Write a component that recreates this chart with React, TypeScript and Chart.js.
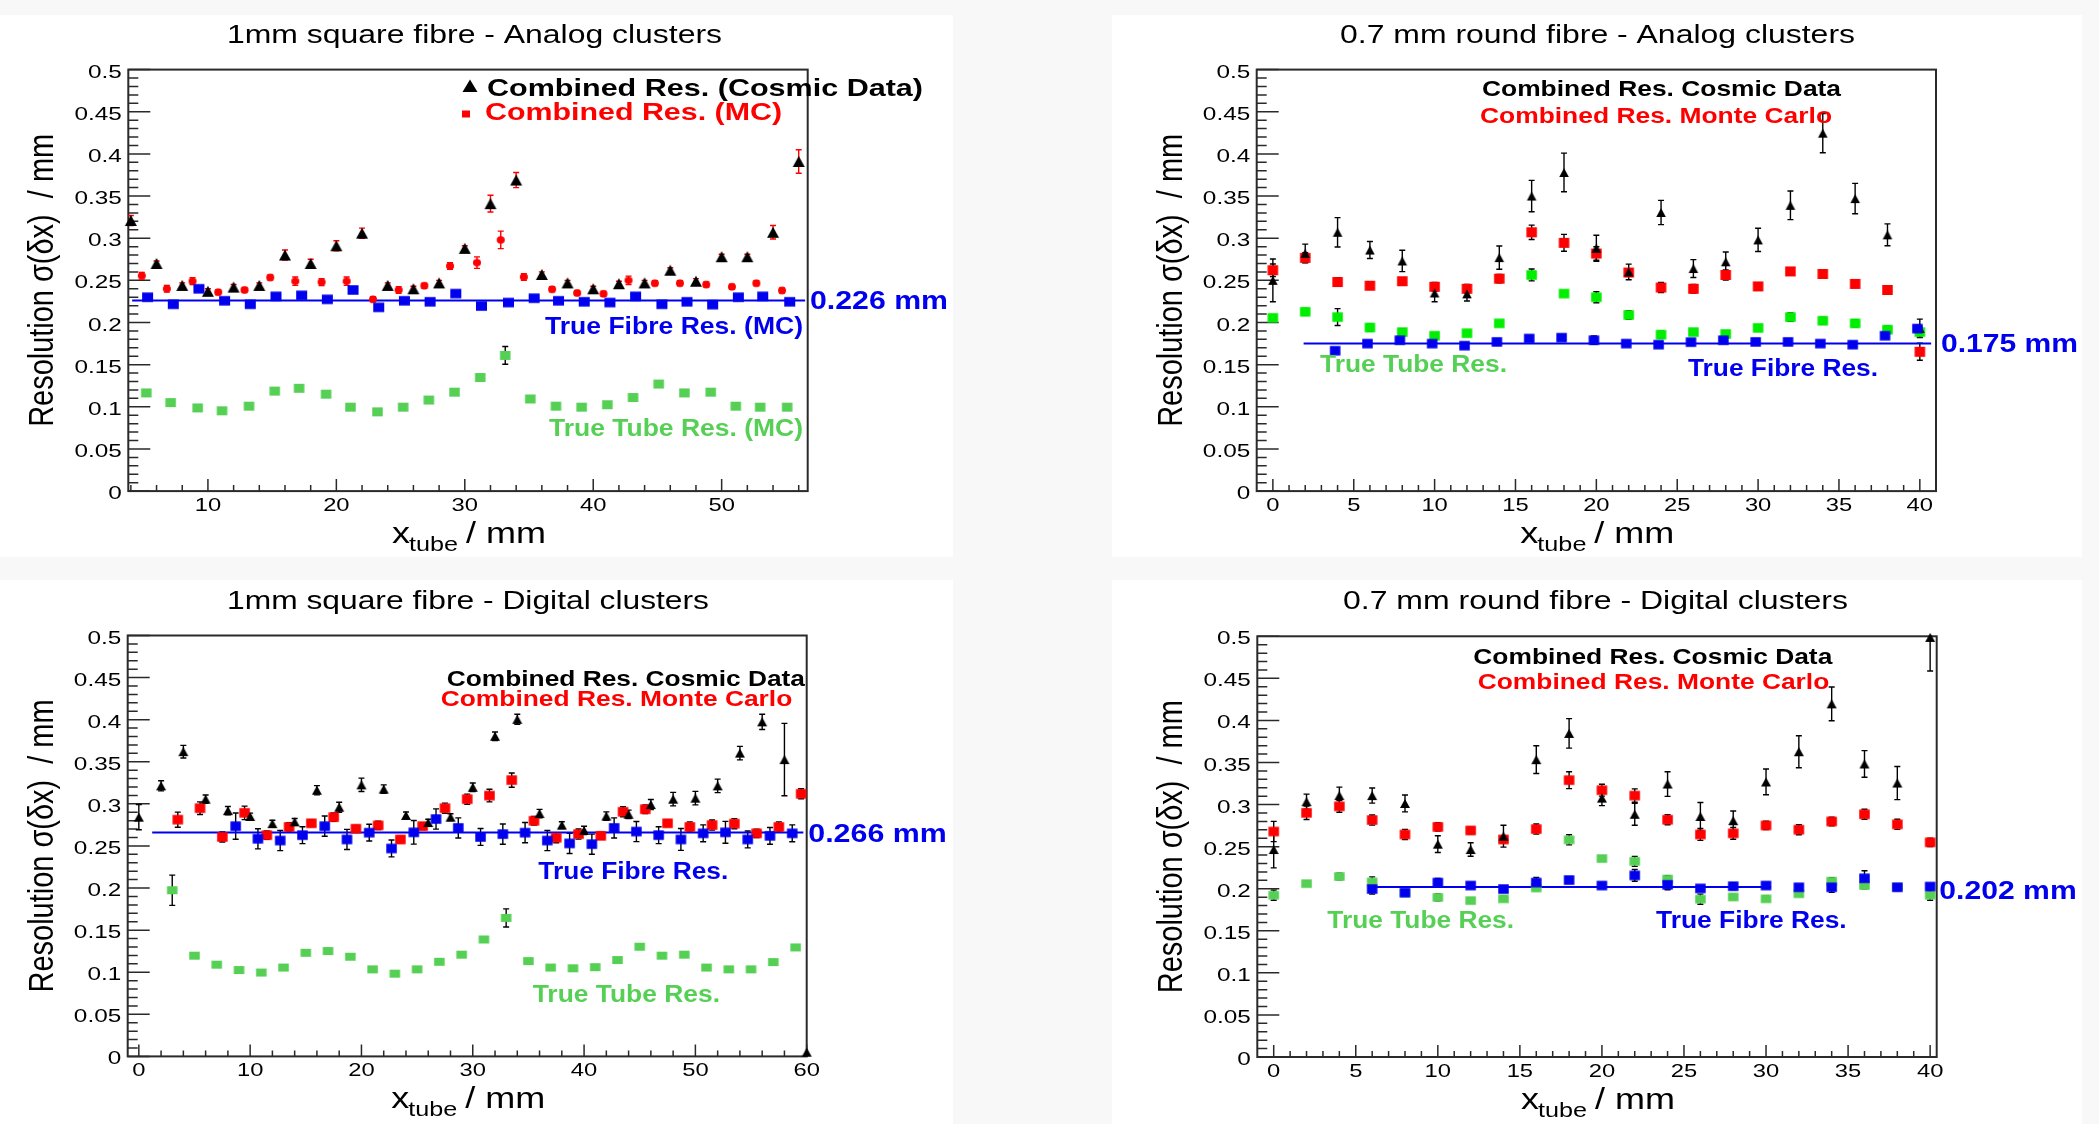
import { useEffect, useRef } from "react";
import { Chart, registerables } from "chart.js";

Chart.register(...registerables);

const FONT = '"Liberation Sans", Arial, Helvetica, sans-serif';
const BLACK = "#000000";
const RED = "#ff0000";
const BLUE = "#0000ee";
const GREEN_LIGHT = "#55d055";
const GREEN_BRIGHT = "#00ee00";
const AXIS = "#2a2a2a";

const Y_TICK_VALUES = [0, 0.05, 0.1, 0.15, 0.2, 0.25, 0.3, 0.35, 0.4, 0.45, 0.5];
const Y_TICK_LABELS = ["0", "0.05", "0.1", "0.15", "0.2", "0.25", "0.3", "0.35", "0.4", "0.45", "0.5"];
const Y_TITLE = "Resolution σ(δx)  / mm";

// ---------- Top-left: 1mm square fibre - Analog clusters ----------
const TL_TITLE = "1mm square fibre - Analog clusters";
const TL_X_LABELS = [10, 20, 30, 40, 50];
const TL_COSMIC_X = [4, 6, 8, 10, 12, 14, 16, 18, 20, 22, 24, 26, 28, 30, 32, 34, 36, 38, 40, 42, 44, 46, 48, 50, 52, 54, 56];
const TL_COSMIC_Y = [0.321, 0.27, 0.244, 0.237, 0.242, 0.244, 0.28, 0.27, 0.291, 0.306, 0.244, 0.24, 0.247, 0.288, 0.341, 0.369, 0.257, 0.247, 0.24, 0.246, 0.247, 0.262, 0.249, 0.278, 0.278, 0.307, 0.391];
const TL_COSMIC_E = [0.006, 0.003, 0.003, 0.003, 0.003, 0.003, 0.006, 0.005, 0.006, 0.006, 0.003, 0.003, 0.003, 0.003, 0.01, 0.009, 0.003, 0.003, 0.003, 0.003, 0.003, 0.003, 0.003, 0.003, 0.003, 0.008, 0.014];
const TL_MC_X = [4.85, 6.8, 8.8, 10.8, 12.85, 14.85, 16.8, 18.85, 20.8, 22.85, 24.85, 26.85, 28.85, 30.95, 32.8, 34.6, 36.8, 38.75, 40.8, 42.75, 44.8, 46.75, 48.8, 50.8, 52.7, 54.7];
const TL_MC_Y = [0.2555, 0.24, 0.249, 0.236, 0.2386, 0.2534, 0.249, 0.2479, 0.249, 0.2275, 0.2386, 0.2436, 0.267, 0.271, 0.298, 0.254, 0.2394, 0.235, 0.234, 0.25, 0.2466, 0.2466, 0.245, 0.2424, 0.2466, 0.238];
const TL_MC_E = [0.004, 0.004, 0.004, 0.003, 0.003, 0.003, 0.005, 0.004, 0.005, 0.003, 0.004, 0.003, 0.004, 0.0068, 0.0104, 0.004, 0.003, 0.003, 0.003, 0.005, 0.003, 0.003, 0.003, 0.003, 0.003, 0.003];
const TL_FIBRE_X = [5.3, 7.3, 9.3, 11.3, 13.3, 15.3, 17.3, 19.3, 21.3, 23.3, 25.3, 27.3, 29.3, 31.3, 33.4, 35.4, 37.3, 39.3, 41.3, 43.3, 45.35, 47.3, 49.3, 51.3, 53.2, 55.3];
const TL_FIBRE_Y = [0.23, 0.2216, 0.24, 0.2258, 0.2216, 0.231, 0.2322, 0.2275, 0.2386, 0.218, 0.2258, 0.2246, 0.2343, 0.2195, 0.2237, 0.2288, 0.2258, 0.2246, 0.2237, 0.231, 0.2216, 0.2246, 0.2212, 0.23, 0.231, 0.2246];
const TL_FIBRE_E = [0.002, 0.002, 0.002, 0.002, 0.002, 0.002, 0.002, 0.002, 0.002, 0.002, 0.002, 0.002, 0.002, 0.002, 0.002, 0.002, 0.002, 0.002, 0.002, 0.002, 0.002, 0.002, 0.002, 0.002, 0.002, 0.002];
const TL_TUBE_X = [5.2, 7.1, 9.2, 11.1, 13.2, 15.2, 17.1, 19.2, 21.1, 23.2, 25.2, 27.2, 29.2, 31.2, 33.15, 35.1, 37.1, 39.1, 41.1, 43.1, 45.1, 47.1, 49.15, 51.1, 53.0, 55.1];
const TL_TUBE_Y = [0.1165, 0.105, 0.0987, 0.0953, 0.1008, 0.1186, 0.122, 0.115, 0.0996, 0.094, 0.0996, 0.108, 0.1174, 0.1347, 0.161, 0.1093, 0.1008, 0.0996, 0.1025, 0.111, 0.127, 0.1165, 0.1174, 0.1008, 0.0996, 0.0996];
const TL_TUBE_E = [0.002, 0.002, 0.002, 0.002, 0.002, 0.002, 0.002, 0.002, 0.002, 0.002, 0.002, 0.002, 0.002, 0.002, 0.0106, 0.002, 0.002, 0.002, 0.002, 0.002, 0.002, 0.002, 0.002, 0.002, 0.002, 0.002];
const TL_FIT = 0.226;
const TL_FIT_RANGE = [4.1, 56.5];

// ---------- Top-right: 0.7 mm round fibre - Analog clusters ----------
const TR_TITLE = "0.7 mm round fibre - Analog clusters";
const TR_X_LABELS = [0, 5, 10, 15, 20, 25, 30, 35, 40];
const TR_EVEN_X = [0, 2, 4, 6, 8, 10, 12, 14, 16, 18, 20, 22, 24, 26, 28, 30, 32, 34, 36, 38, 40];
const TR_COSMIC_Y = [0.25, 0.282, 0.307, 0.286, 0.273, 0.235, 0.234, 0.277, 0.35, 0.378, 0.288, 0.26, 0.3305, 0.264, 0.272, 0.298, 0.339, 0.4246, 0.347, 0.304, 0.193];
const TR_COSMIC_E = [0.0254, 0.011, 0.0174, 0.01, 0.0127, 0.0104, 0.0085, 0.0138, 0.0186, 0.0229, 0.0155, 0.0093, 0.0144, 0.0106, 0.0117, 0.0138, 0.017, 0.0233, 0.018, 0.013, 0.011];
const TR_MC_Y = [0.262, 0.2767, 0.248, 0.2436, 0.249, 0.2424, 0.24, 0.252, 0.307, 0.2945, 0.2818, 0.2593, 0.2415, 0.24, 0.2564, 0.2428, 0.2606, 0.2576, 0.2458, 0.2386, 0.1653];
const TR_MC_E = [0.0074, 0.006, 0.005, 0.003, 0.004, 0.005, 0.005, 0.005, 0.0085, 0.01, 0.008, 0.004, 0.006, 0.005, 0.006, 0.004, 0.004, 0.004, 0.003, 0.004, 0.01];
const TR_TUBE_Y = [0.2055, 0.2127, 0.2064, 0.194, 0.1886, 0.1843, 0.1873, 0.199, 0.2564, 0.2343, 0.23, 0.2089, 0.1856, 0.1886, 0.1864, 0.1936, 0.2064, 0.2021, 0.199, 0.1915, 0.1886];
const TR_TUBE_E = [0.003, 0.004, 0.01, 0.004, 0.004, 0.003, 0.003, 0.003, 0.007, 0.003, 0.0065, 0.005, 0.004, 0.003, 0.003, 0.003, 0.005, 0.004, 0.004, 0.004, 0.006];
const TR_FIBRE_X = [3.85, 5.85, 7.85, 9.85, 11.85, 13.85, 15.85, 17.85, 19.85, 21.85, 23.85, 25.85, 27.85, 29.85, 31.85, 33.85, 35.85, 37.85, 39.85];
const TR_FIBRE_Y = [0.1665, 0.175, 0.179, 0.175, 0.1725, 0.177, 0.181, 0.182, 0.179, 0.175, 0.1737, 0.1767, 0.179, 0.177, 0.177, 0.175, 0.1737, 0.1843, 0.1928];
const TR_FIBRE_E = [0.003, 0.003, 0.003, 0.003, 0.003, 0.003, 0.003, 0.003, 0.005, 0.003, 0.003, 0.003, 0.003, 0.003, 0.003, 0.003, 0.003, 0.003, 0.004];
const TR_FIT = 0.175;
const TR_FIT_RANGE = [1.9, 40.7];

// ---------- Bottom-left: 1mm square fibre - Digital clusters ----------
const BL_TITLE = "1mm square fibre - Digital clusters";
const BL_X_LABELS = [0, 10, 20, 30, 40, 50, 60];
const BL_COSMIC_X = [0, 2, 4, 6, 8, 10, 12, 14, 16, 18, 20, 22, 24, 26, 28, 30, 32, 34, 36, 38, 40, 42, 44, 46, 48, 50, 52, 54, 56, 58, 60];
const BL_COSMIC_Y = [0.2842, 0.3214, 0.362, 0.3056, 0.2919, 0.285, 0.2765, 0.2786, 0.3162, 0.296, 0.3226, 0.3175, 0.2863, 0.2778, 0.2842, 0.3197, 0.3803, 0.4004, 0.2885, 0.2748, 0.2684, 0.2855, 0.2876, 0.2991, 0.3056, 0.3068, 0.3214, 0.3603, 0.3974, 0.3526, 0.005];
const BL_COSMIC_E = [0.015, 0.006, 0.0075, 0.005, 0.005, 0.004, 0.004, 0.004, 0.0055, 0.006, 0.008, 0.005, 0.004, 0.004, 0.004, 0.005, 0.005, 0.006, 0.005, 0.004, 0.005, 0.005, 0.005, 0.006, 0.008, 0.008, 0.008, 0.008, 0.009, 0.043, 0];
const BL_MC_X = [3.5, 5.5, 7.5, 9.5, 11.5, 13.5, 15.5, 17.5, 19.5, 21.5, 23.5, 25.5, 27.5, 29.5, 31.5, 33.5, 35.5, 37.5, 39.5, 41.5, 43.5, 45.5, 47.5, 49.5, 51.5, 53.5, 55.5, 57.5, 59.5];
const BL_MC_Y = [0.2812, 0.2949, 0.2607, 0.2893, 0.2628, 0.2726, 0.2769, 0.2842, 0.2705, 0.2744, 0.2577, 0.2735, 0.2949, 0.3056, 0.3098, 0.3282, 0.2799, 0.2598, 0.2641, 0.262, 0.2906, 0.2936, 0.2769, 0.2726, 0.2748, 0.2765, 0.265, 0.2726, 0.312];
const BL_MC_E = [0.009, 0.0075, 0.006, 0.008, 0.005, 0.005, 0.004, 0.005, 0.004, 0.005, 0.004, 0.004, 0.006, 0.006, 0.0075, 0.0085, 0.005, 0.006, 0.006, 0.004, 0.006, 0.005, 0.004, 0.006, 0.006, 0.006, 0.005, 0.006, 0.006];
const BL_FIBRE_X = [8.7, 10.7, 12.7, 14.7, 16.7, 18.7, 20.7, 22.7, 24.7, 26.7, 28.7, 30.7, 32.7, 34.7, 36.7, 38.7, 40.7, 42.7, 44.7, 46.7, 48.7, 50.7, 52.7, 54.7, 56.7, 58.7];
const BL_FIBRE_Y = [0.2735, 0.2585, 0.2564, 0.2628, 0.2735, 0.2577, 0.2658, 0.247, 0.2662, 0.282, 0.2714, 0.2607, 0.2641, 0.2658, 0.2564, 0.253, 0.2521, 0.2714, 0.2671, 0.2628, 0.2577, 0.265, 0.2662, 0.2577, 0.262, 0.265];
const BL_FIBRE_E = [0.0156, 0.012, 0.012, 0.01, 0.012, 0.012, 0.01, 0.01, 0.014, 0.012, 0.012, 0.01, 0.012, 0.012, 0.012, 0.012, 0.012, 0.012, 0.012, 0.01, 0.013, 0.01, 0.013, 0.01, 0.01, 0.01];
const BL_TUBE_X = [3, 5, 7, 9, 11, 13, 15, 17, 19, 21, 23, 25, 27, 29, 31, 33, 35, 37, 39, 41, 43, 45, 47, 49, 51, 53, 55, 57, 59];
const BL_TUBE_Y = [0.1974, 0.1197, 0.109, 0.1026, 0.0996, 0.1056, 0.1231, 0.1252, 0.1184, 0.1034, 0.0983, 0.1034, 0.1124, 0.1209, 0.1389, 0.1645, 0.1132, 0.1056, 0.1047, 0.106, 0.1145, 0.1303, 0.1197, 0.1209, 0.1056, 0.1034, 0.1034, 0.112, 0.1295];
const BL_TUBE_E = [0.018, 0.002, 0.002, 0.002, 0.002, 0.002, 0.002, 0.002, 0.002, 0.002, 0.002, 0.002, 0.002, 0.002, 0.002, 0.0107, 0.002, 0.002, 0.002, 0.002, 0.002, 0.002, 0.002, 0.002, 0.002, 0.002, 0.002, 0.002, 0.002];
const BL_FIT = 0.266;
const BL_FIT_RANGE = [1.2, 59.7];

// ---------- Bottom-right: 0.7 mm round fibre - Digital clusters ----------
const BR_TITLE = "0.7 mm round fibre - Digital clusters";
const BR_X_LABELS = [0, 5, 10, 15, 20, 25, 30, 35, 40];
const BR_EVEN_X = [0, 2, 4, 6, 8, 10, 12, 14, 16, 18, 20, 22, 24, 26, 28, 30, 32, 34, 36, 38, 40];
const BR_COSMIC_Y = [0.2466, 0.3034, 0.3107, 0.3107, 0.3013, 0.253, 0.2466, 0.2624, 0.3534, 0.3846, 0.3077, 0.2885, 0.3244, 0.2859, 0.2808, 0.3269, 0.3628, 0.4197, 0.3483, 0.3256, 0.4987];
const BR_COSMIC_E = [0.0218, 0.009, 0.01, 0.009, 0.01, 0.01, 0.008, 0.013, 0.0165, 0.0175, 0.009, 0.013, 0.0147, 0.0165, 0.0115, 0.0153, 0.019, 0.02, 0.0158, 0.0197, 0.04];
const BR_MC_Y = [0.268, 0.2902, 0.2979, 0.2816, 0.2645, 0.2735, 0.2692, 0.2585, 0.2709, 0.329, 0.3171, 0.3107, 0.282, 0.2645, 0.2658, 0.2752, 0.2701, 0.2799, 0.2885, 0.2765, 0.2551];
const BR_MC_E = [0.012, 0.008, 0.007, 0.006, 0.006, 0.005, 0.004, 0.004, 0.006, 0.01, 0.007, 0.008, 0.006, 0.007, 0.007, 0.005, 0.006, 0.005, 0.006, 0.006, 0.005];
const BR_TUBE_Y = [0.1923, 0.206, 0.2145, 0.2081, 0.195, 0.1897, 0.1859, 0.188, 0.2009, 0.2581, 0.2359, 0.2325, 0.2115, 0.1876, 0.1902, 0.188, 0.194, 0.209, 0.2038, 0.202, 0.1923];
const BR_TUBE_E = [0.006, 0.003, 0.004, 0.006, 0.003, 0.004, 0.003, 0.003, 0.003, 0.006, 0.003, 0.006, 0.004, 0.006, 0.003, 0.003, 0.003, 0.004, 0.004, 0.003, 0.006];
const BR_FIBRE_X = [6, 8, 10, 12, 14, 16, 18, 20, 22, 24, 26, 28, 30, 32, 34, 36, 38, 40];
const BR_FIBRE_Y = [0.1996, 0.1953, 0.2073, 0.2038, 0.1996, 0.2073, 0.2103, 0.2038, 0.2158, 0.2047, 0.2004, 0.203, 0.2038, 0.2017, 0.2017, 0.2124, 0.2017, 0.2026];
const BR_FIBRE_E = [0.006, 0.003, 0.005, 0.003, 0.003, 0.006, 0.004, 0.003, 0.007, 0.006, 0.003, 0.004, 0.003, 0.003, 0.006, 0.009, 0.004, 0.003];
const BR_FIT = 0.202;
const BR_FIT_RANGE = [5.8, 30.3];

type Shape = "tri" | "sq" | "circ";
type Series = { x: number[]; y: number[]; e: number[]; color: string; errColor: string; shape: Shape; w: number; h: number; order: number };
type TextItem = { text: string; left: number; right: number; baseline: number; size: number; bold: boolean; color: string };
type Panel = {
  box: { left: number; top: number; width: number; height: number };
  plot: { L: number; T: number; R: number; B: number };
  xMin: number;
  xMax: number;
  xLabels: number[];
  xMinorStep: number;
  xMinorFrom: number;
  xMinorTo: number;
  series: Series[];
  fit: { value: number; from: number; to: number };
  title: TextItem;
  texts: TextItem[];
  legendMarks: boolean;
};

const PANELS: Panel[] = [
  {
    box: { left: 0, top: 15, width: 953, height: 542 },
    plot: { L: 128.3, T: 69.6, R: 807.7, B: 491.1 },
    xMin: 3.8, xMax: 56.7, xLabels: TL_X_LABELS, xMinorStep: 2, xMinorFrom: 4, xMinorTo: 56,
    series: [
      { x: TL_FIBRE_X, y: TL_FIBRE_Y, e: TL_FIBRE_E, color: BLUE, errColor: BLACK, shape: "sq", w: 11, h: 9.5, order: 0 },
      { x: TL_COSMIC_X, y: TL_COSMIC_Y, e: TL_COSMIC_E, color: BLACK, errColor: RED, shape: "tri", w: 12, h: 11, order: 1 },
      { x: TL_MC_X, y: TL_MC_Y, e: TL_MC_E, color: RED, errColor: RED, shape: "circ", w: 8, h: 7.5, order: 2 },
      { x: TL_TUBE_X, y: TL_TUBE_Y, e: TL_TUBE_E, color: GREEN_LIGHT, errColor: BLACK, shape: "sq", w: 10.5, h: 9, order: 3 },
    ],
    fit: { value: TL_FIT, from: TL_FIT_RANGE[0], to: TL_FIT_RANGE[1] },
    title: { text: TL_TITLE, left: 227, right: 722, baseline: 43, size: 25, bold: false, color: BLACK },
    texts: [
      { text: "Combined Res. (Cosmic Data)", left: 487, right: 923, baseline: 95.7, size: 24, bold: true, color: BLACK },
      { text: "Combined Res. (MC)", left: 485, right: 782, baseline: 119.6, size: 24, bold: true, color: RED },
      { text: "0.226 mm", left: 810, right: 948, baseline: 309, size: 26, bold: true, color: BLUE },
      { text: "True Fibre Res. (MC)", left: 545, right: 803, baseline: 334, size: 24, bold: true, color: BLUE },
      { text: "True Tube Res. (MC)", left: 549, right: 803, baseline: 436, size: 24, bold: true, color: GREEN_LIGHT },
    ],
    legendMarks: true,
  },
  {
    box: { left: 1112, top: 15, width: 970, height: 542 },
    plot: { L: 1256.7, T: 69.6, R: 1936, B: 491.1 },
    xMin: -1, xMax: 41, xLabels: TR_X_LABELS, xMinorStep: 1, xMinorFrom: 0, xMinorTo: 40,
    series: [
      { x: TR_FIBRE_X, y: TR_FIBRE_Y, e: TR_FIBRE_E, color: BLUE, errColor: BLACK, shape: "sq", w: 10.5, h: 9.5, order: 0 },
      { x: TR_EVEN_X, y: TR_COSMIC_Y, e: TR_COSMIC_E, color: BLACK, errColor: BLACK, shape: "tri", w: 9.5, h: 9, order: 1 },
      { x: TR_EVEN_X, y: TR_MC_Y, e: TR_MC_E, color: RED, errColor: BLACK, shape: "sq", w: 10.5, h: 10, order: 2 },
      { x: TR_EVEN_X, y: TR_TUBE_Y, e: TR_TUBE_E, color: GREEN_BRIGHT, errColor: BLACK, shape: "sq", w: 10.5, h: 9.5, order: 3 },
    ],
    fit: { value: TR_FIT, from: TR_FIT_RANGE[0], to: TR_FIT_RANGE[1] },
    title: { text: TR_TITLE, left: 1340, right: 1855, baseline: 43, size: 25, bold: false, color: BLACK },
    texts: [
      { text: "Combined Res. Cosmic Data", left: 1482, right: 1841, baseline: 96.4, size: 22, bold: true, color: BLACK },
      { text: "Combined Res. Monte Carlo", left: 1480, right: 1832, baseline: 123, size: 22, bold: true, color: RED },
      { text: "0.175 mm", left: 1941, right: 2078, baseline: 352, size: 26, bold: true, color: BLUE },
      { text: "True Fibre Res.", left: 1688, right: 1878, baseline: 376, size: 23, bold: true, color: BLUE },
      { text: "True Tube Res.", left: 1320, right: 1507, baseline: 372, size: 23, bold: true, color: GREEN_LIGHT },
    ],
    legendMarks: false,
  },
  {
    box: { left: 0, top: 580, width: 953, height: 544 },
    plot: { L: 127.7, T: 635.5, R: 806.7, B: 1056.4 },
    xMin: -1, xMax: 60, xLabels: BL_X_LABELS, xMinorStep: 2, xMinorFrom: 0, xMinorTo: 60,
    series: [
      { x: BL_FIBRE_X, y: BL_FIBRE_Y, e: BL_FIBRE_E, color: BLUE, errColor: BLACK, shape: "sq", w: 10.5, h: 9.5, order: 0 },
      { x: BL_COSMIC_X, y: BL_COSMIC_Y, e: BL_COSMIC_E, color: BLACK, errColor: BLACK, shape: "tri", w: 10, h: 9, order: 1 },
      { x: BL_MC_X, y: BL_MC_Y, e: BL_MC_E, color: RED, errColor: BLACK, shape: "sq", w: 10.5, h: 9.5, order: 2 },
      { x: BL_TUBE_X, y: BL_TUBE_Y, e: BL_TUBE_E, color: GREEN_LIGHT, errColor: BLACK, shape: "sq", w: 10.5, h: 8, order: 3 },
    ],
    fit: { value: BL_FIT, from: BL_FIT_RANGE[0], to: BL_FIT_RANGE[1] },
    title: { text: BL_TITLE, left: 227, right: 709, baseline: 608.6, size: 25, bold: false, color: BLACK },
    texts: [
      { text: "Combined Res. Cosmic Data", left: 446.7, right: 805, baseline: 686, size: 22, bold: true, color: BLACK },
      { text: "Combined Res. Monte Carlo", left: 440.7, right: 792.3, baseline: 705.7, size: 22, bold: true, color: RED },
      { text: "0.266 mm", left: 808.3, right: 946.7, baseline: 842.4, size: 26, bold: true, color: BLUE },
      { text: "True Fibre Res.", left: 538.3, right: 728.3, baseline: 879.4, size: 23, bold: true, color: BLUE },
      { text: "True Tube Res.", left: 532.7, right: 720, baseline: 1001.7, size: 23, bold: true, color: GREEN_LIGHT },
    ],
    legendMarks: false,
  },
  {
    box: { left: 1112, top: 580, width: 970, height: 544 },
    plot: { L: 1257.3, T: 636.3, R: 1936.7, B: 1057 },
    xMin: -1, xMax: 40.4, xLabels: BR_X_LABELS, xMinorStep: 1, xMinorFrom: 0, xMinorTo: 40,
    series: [
      { x: BR_FIBRE_X, y: BR_FIBRE_Y, e: BR_FIBRE_E, color: BLUE, errColor: BLACK, shape: "sq", w: 10.5, h: 9.5, order: 0 },
      { x: BR_EVEN_X, y: BR_COSMIC_Y, e: BR_COSMIC_E, color: BLACK, errColor: BLACK, shape: "tri", w: 10, h: 9, order: 1 },
      { x: BR_EVEN_X, y: BR_MC_Y, e: BR_MC_E, color: RED, errColor: BLACK, shape: "sq", w: 10.5, h: 9.5, order: 2 },
      { x: BR_EVEN_X, y: BR_TUBE_Y, e: BR_TUBE_E, color: GREEN_LIGHT, errColor: BLACK, shape: "sq", w: 10.5, h: 8.5, order: 3 },
    ],
    fit: { value: BR_FIT, from: BR_FIT_RANGE[0], to: BR_FIT_RANGE[1] },
    title: { text: BR_TITLE, left: 1343, right: 1848, baseline: 608.6, size: 25, bold: false, color: BLACK },
    texts: [
      { text: "Combined Res. Cosmic Data", left: 1473.3, right: 1832.3, baseline: 664, size: 22, bold: true, color: BLACK },
      { text: "Combined Res. Monte Carlo", left: 1477.7, right: 1829.3, baseline: 688.8, size: 22, bold: true, color: RED },
      { text: "0.202 mm", left: 1939.3, right: 2076.7, baseline: 899, size: 26, bold: true, color: BLUE },
      { text: "True Fibre Res.", left: 1656, right: 1846.7, baseline: 927.6, size: 23, bold: true, color: BLUE },
      { text: "True Tube Res.", left: 1327.3, right: 1514, baseline: 927.6, size: 23, bold: true, color: GREEN_LIGHT },
    ],
    legendMarks: false,
  },
];

function makeMarker(shape: Shape, w: number, h: number, color: string): HTMLCanvasElement {
  const c = document.createElement("canvas");
  const W = Math.ceil(w) + 2;
  const H = Math.ceil(h) + 2;
  c.width = W;
  c.height = H;
  const g = c.getContext("2d")!;
  g.fillStyle = color;
  const cx = W / 2;
  const cy = H / 2;
  g.beginPath();
  if (shape === "tri") {
    g.moveTo(cx, cy - h / 2);
    g.lineTo(cx + w / 2, cy + h / 2);
    g.lineTo(cx - w / 2, cy + h / 2);
    g.closePath();
  } else if (shape === "sq") {
    g.rect(cx - w / 2, cy - h / 2, w, h);
  } else {
    g.ellipse(cx, cy, w / 2, h / 2, 0, 0, Math.PI * 2);
  }
  g.fill();
  return c;
}

function fitText(ctx: CanvasRenderingContext2D, t: TextItem, ox: number, oy: number) {
  ctx.save();
  ctx.font = `${t.bold ? "bold " : ""}${t.size}px ${FONT}`;
  const w = ctx.measureText(t.text).width;
  ctx.translate(t.left - ox, t.baseline - oy);
  ctx.scale((t.right - t.left) / w, 1);
  ctx.fillStyle = t.color;
  ctx.textAlign = "left";
  ctx.textBaseline = "alphabetic";
  ctx.fillText(t.text, 0, 0);
  ctx.restore();
}

function stretchText(
  ctx: CanvasRenderingContext2D,
  s: string,
  x: number,
  baseline: number,
  size: number,
  align: "left" | "center" | "right",
  sx: number
) {
  ctx.save();
  ctx.font = `${size}px ${FONT}`;
  const w = ctx.measureText(s).width * sx;
  let left = x;
  if (align === "center") left = x - w / 2;
  if (align === "right") left = x - w;
  ctx.translate(left, baseline);
  ctx.scale(sx, 1);
  ctx.fillStyle = BLACK;
  ctx.textAlign = "left";
  ctx.textBaseline = "alphabetic";
  ctx.fillText(s, 0, 0);
  ctx.restore();
}

function makeDeco(p: Panel) {
  return {
    id: "deco",
    beforeDatasetsDraw(chart: any) {
      const ctx: CanvasRenderingContext2D = chart.ctx;
      const xs = chart.scales.x;
      const ys = chart.scales.y;
      const { left: L, right: R, top: T, bottom: B } = chart.chartArea;
      ctx.save();
      ctx.strokeStyle = AXIS;
      ctx.lineWidth = 1.5;
      ctx.beginPath();
      for (let i = 0; i <= 50; i++) {
        const v = i / 100;
        const py = ys.getPixelForValue(v);
        const len = i % 5 === 0 ? 22 : 10;
        ctx.moveTo(L, py);
        ctx.lineTo(L + len, py);
      }
      for (let v = p.xMinorFrom; v <= p.xMinorTo + 1e-9; v += p.xMinorStep) {
        const px = xs.getPixelForValue(v);
        ctx.moveTo(px, B);
        ctx.lineTo(px, B - 6);
      }
      for (const v of p.xLabels) {
        const px = xs.getPixelForValue(v);
        ctx.moveTo(px, B);
        ctx.lineTo(px, B - 12);
      }
      ctx.stroke();
      ctx.lineWidth = 2;
      ctx.strokeRect(L, T, R - L, B - T);

      ctx.beginPath();
      ctx.rect(L, T, R - L, B - T);
      ctx.clip();
      for (const s of p.series) {
        ctx.strokeStyle = s.errColor;
        ctx.lineWidth = 1.4;
        ctx.beginPath();
        s.x.forEach((xv, i) => {
          const e = s.e[i];
          if (!e) return;
          const px = xs.getPixelForValue(xv);
          const p1 = ys.getPixelForValue(s.y[i] - e);
          const p2 = ys.getPixelForValue(s.y[i] + e);
          ctx.moveTo(px, p1);
          ctx.lineTo(px, p2);
          ctx.moveTo(px - 3, p1);
          ctx.lineTo(px + 3, p1);
          ctx.moveTo(px - 3, p2);
          ctx.lineTo(px + 3, p2);
        });
        ctx.stroke();
      }
      ctx.restore();
    },
    afterDraw(chart: any) {
      const ctx: CanvasRenderingContext2D = chart.ctx;
      const xs = chart.scales.x;
      const ys = chart.scales.y;
      const { left: L, right: R, top: T, bottom: B } = chart.chartArea;
      const ox = p.box.left;
      const oy = p.box.top;

      // y tick labels
      Y_TICK_VALUES.forEach((v, i) => {
        const py = ys.getPixelForValue(v);
        stretchText(ctx, Y_TICK_LABELS[i], L - 6.5, py + 8, 19, "right", 1.28);
      });
      // x tick labels
      p.xLabels.forEach((v) => {
        const px = xs.getPixelForValue(v);
        stretchText(ctx, String(v), px, B + 19.5, 19, "center", 1.25);
      });
      // x title
      const cx = (L + R) / 2;
      stretchText(ctx, "x", cx - 76, B + 52, 30, "left", 1.2);
      stretchText(ctx, "tube", cx - 59, B + 60, 21, "left", 1.2);
      stretchText(ctx, "/ mm", cx - 2, B + 52, 30, "left", 1.2);
      // y title
      ctx.save();
      ctx.font = `28px ${FONT}`;
      const yw = ctx.measureText(Y_TITLE).width;
      ctx.translate(L - 75, (T + B) / 2);
      ctx.rotate(-Math.PI / 2);
      ctx.scale(293 / yw, 1.25);
      ctx.fillStyle = BLACK;
      ctx.textAlign = "center";
      ctx.textBaseline = "alphabetic";
      ctx.fillText(Y_TITLE, 0, 0);
      ctx.restore();

      fitText(ctx, p.title, ox, oy);
      for (const t of p.texts) fitText(ctx, t, ox, oy);

      if (p.legendMarks) {
        ctx.save();
        ctx.fillStyle = BLACK;
        ctx.beginPath();
        ctx.moveTo(470 - ox, 79.5 - oy);
        ctx.lineTo(477.5 - ox, 92 - oy);
        ctx.lineTo(462.5 - ox, 92 - oy);
        ctx.closePath();
        ctx.fill();
        ctx.fillStyle = RED;
        ctx.fillRect(462 - ox, 110.5 - oy, 8, 7);
        ctx.restore();
      }
    },
  };
}

function PanelChart({ p }: { p: Panel }) {
  const ref = useRef<HTMLCanvasElement>(null);
  useEffect(() => {
    const canvas = ref.current;
    if (!canvas) return;
    const datasets: any[] = p.series.map((s) => ({
      type: "scatter",
      data: s.x.map((xv, i) => ({ x: xv, y: s.y[i] })),
      pointStyle: makeMarker(s.shape, s.w, s.h, s.color),
      pointRadius: 5,
      pointHoverRadius: 5,
      borderWidth: 0,
      backgroundColor: s.color,
      order: s.order,
      clip: false,
    }));
    datasets.push({
      type: "line",
      data: [
        { x: p.fit.from, y: p.fit.value },
        { x: p.fit.to, y: p.fit.value },
      ],
      borderColor: BLUE,
      borderWidth: 2,
      pointRadius: 0,
      order: 10,
      clip: false,
    });
    const chart = new Chart(canvas, {
      type: "scatter",
      data: { datasets },
      options: {
        animation: false,
        responsive: false,
        maintainAspectRatio: false,
        events: [],
        layout: {
          padding: {
            left: p.plot.L - p.box.left,
            top: p.plot.T - p.box.top,
            right: p.box.left + p.box.width - p.plot.R,
            bottom: p.box.top + p.box.height - p.plot.B,
          },
        },
        plugins: {
          legend: { display: false },
          tooltip: { enabled: false },
          title: { display: false },
        },
        scales: {
          x: { type: "linear", min: p.xMin, max: p.xMax, display: false },
          y: { type: "linear", min: 0, max: 0.5, display: false },
        },
      },
      plugins: [makeDeco(p) as any],
    } as any);
    return () => chart.destroy();
  }, [p]);
  return (
    <canvas
      ref={ref}
      width={p.box.width}
      height={p.box.height}
      style={{
        position: "absolute",
        left: p.box.left,
        top: p.box.top,
        width: p.box.width,
        height: p.box.height,
        background: "#ffffff",
      }}
    />
  );
}

export default function App() {
  useEffect(() => {
    document.body.style.margin = "0";
    document.documentElement.style.overflow = "hidden";
  }, []);
  return (
    <div
      style={{
        position: "absolute",
        left: 0,
        top: 0,
        width: 2099,
        height: 1124,
        background: "#f8f8f8",
        overflow: "hidden",
      }}
    >
      {PANELS.map((p, i) => (
        <PanelChart key={i} p={p} />
      ))}
    </div>
  );
}
